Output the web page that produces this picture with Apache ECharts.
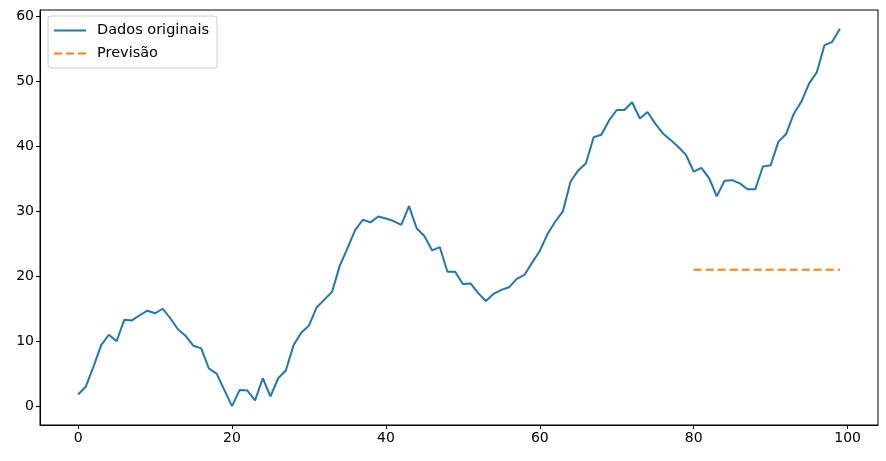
<!DOCTYPE html>
<html>
<head>
<meta charset="utf-8">
<title>Dados originais e previsão</title>
<script src="https://cdn.jsdelivr.net/npm/echarts@6/dist/echarts.min.js"></script>
<style>
  html, body { margin: 0; padding: 0; background: #fff; }
  #chart { width: 886px; height: 461px; }
</style>
</head>
<body>
<div id="chart"></div>
<script>
// valores (índice 0..99)
const originalValues = [
  1.8, 3.0, 6.1, 9.4, 11.0, 10.0, 13.3, 13.2, 14.0, 14.7,
  14.3, 15.0, 13.5, 11.8, 10.8, 9.3, 8.9, 5.8, 5.0, 2.5,
  0.0, 2.5, 2.4, 0.9, 4.3, 1.5, 4.3, 5.5, 9.4, 11.3,
  12.4, 15.2, 16.4, 17.6, 21.6, 24.3, 27.1, 28.7, 28.3, 29.2,
  28.9, 28.5, 27.9, 30.8, 27.4, 26.2, 24.0, 24.5, 20.7, 20.7,
  18.8, 18.9, 17.4, 16.2, 17.3, 17.9, 18.3, 19.6, 20.2, 22.1,
  23.9, 26.5, 28.4, 30.0, 34.6, 36.3, 37.4, 41.4, 41.8, 44.0,
  45.6, 45.6, 46.8, 44.3, 45.3, 43.5, 42.0, 41.0, 39.9, 38.7,
  36.1, 36.7, 35.1, 32.3, 34.7, 34.8, 34.3, 33.4, 33.4, 36.9,
  37.1, 40.7, 41.9, 45.0, 46.9, 49.7, 51.4, 55.6, 56.1, 58.1
];
const forecastStart = 80;
const forecastValues = [
  21.0, 21.0, 21.0, 21.0, 21.0, 21.0, 21.0, 21.0, 21.0, 21.0,
  21.0, 21.0, 21.0, 21.0, 21.0, 21.0, 21.0, 21.0, 21.0, 21.0
];
const xTicks = [0, 20, 40, 60, 80, 100];
const yTicks = [0, 10, 20, 30, 40, 50, 60];
const seriesNames = ['Dados originais', 'Previsão'];

const chart = echarts.init(document.getElementById('chart'), null, { renderer: 'canvas' });

const font = 'DejaVu Sans';
const axisCommon = {
  type: 'value',
  splitLine: { show: false },
  axisLine: { show: true, onZero: false, lineStyle: { color: '#000', width: 1 } },
  axisTick: { show: true, inside: false, length: 4, lineStyle: { color: '#000', width: 1 } },
  axisLabel: { color: '#000', fontFamily: font, fontSize: 14, margin: 6 },
};

let option = {
  animation: false,
  backgroundColor: '#fff',
  grid: {
    left: 40, right: 8, top: 10, bottom: 36,
    show: true, borderColor: '#000', borderWidth: 1,
    containLabel: false,
  },
  legend: {
    orient: 'vertical',
    left: 48, top: 16,
    padding: [7, 8, 7, 5],
    itemGap: 8,
    itemWidth: 32, itemHeight: 14,
    icon: 'inherit',
    itemStyle: { opacity: 0 },
    backgroundColor: 'rgba(255,255,255,0.8)',
    borderColor: '#cccccc', borderWidth: 1, borderRadius: 3,
    textStyle: { color: '#000', fontFamily: font, fontSize: 14.5, padding: [0, 0, 0, 6] },
    data: seriesNames,
  },
  xAxis: Object.assign({}, axisCommon, {
    min: -4.95, max: 103.95,
    axisTick: Object.assign({}, axisCommon.axisTick, { customValues: xTicks }),
    axisLabel: Object.assign({}, axisCommon.axisLabel, { customValues: xTicks }),
  }),
  yAxis: Object.assign({}, axisCommon, {
    min: -2.9, max: 61.0,
    axisTick: Object.assign({}, axisCommon.axisTick, { customValues: yTicks }),
    axisLabel: Object.assign({}, axisCommon.axisLabel, { customValues: yTicks }),
  }),
  series: [
    {
      name: seriesNames[0],
      type: 'line',
      showSymbol: false,
      symbol: 'none',
      color: '#1f77b4',
      lineStyle: { color: '#1f77b4', width: 2 },
      data: originalValues.map((v, i) => [i, v]),
    },
    {
      name: seriesNames[1],
      type: 'line',
      showSymbol: false,
      symbol: 'none',
      color: '#ff7f0e',
      lineStyle: { color: '#ff7f0e', width: 2, type: [8, 4] },
      data: forecastValues.map((v, i) => [forecastStart + i, v]),
    },
  ],
};

chart.setOption(option);
</script>
</body>
</html>
